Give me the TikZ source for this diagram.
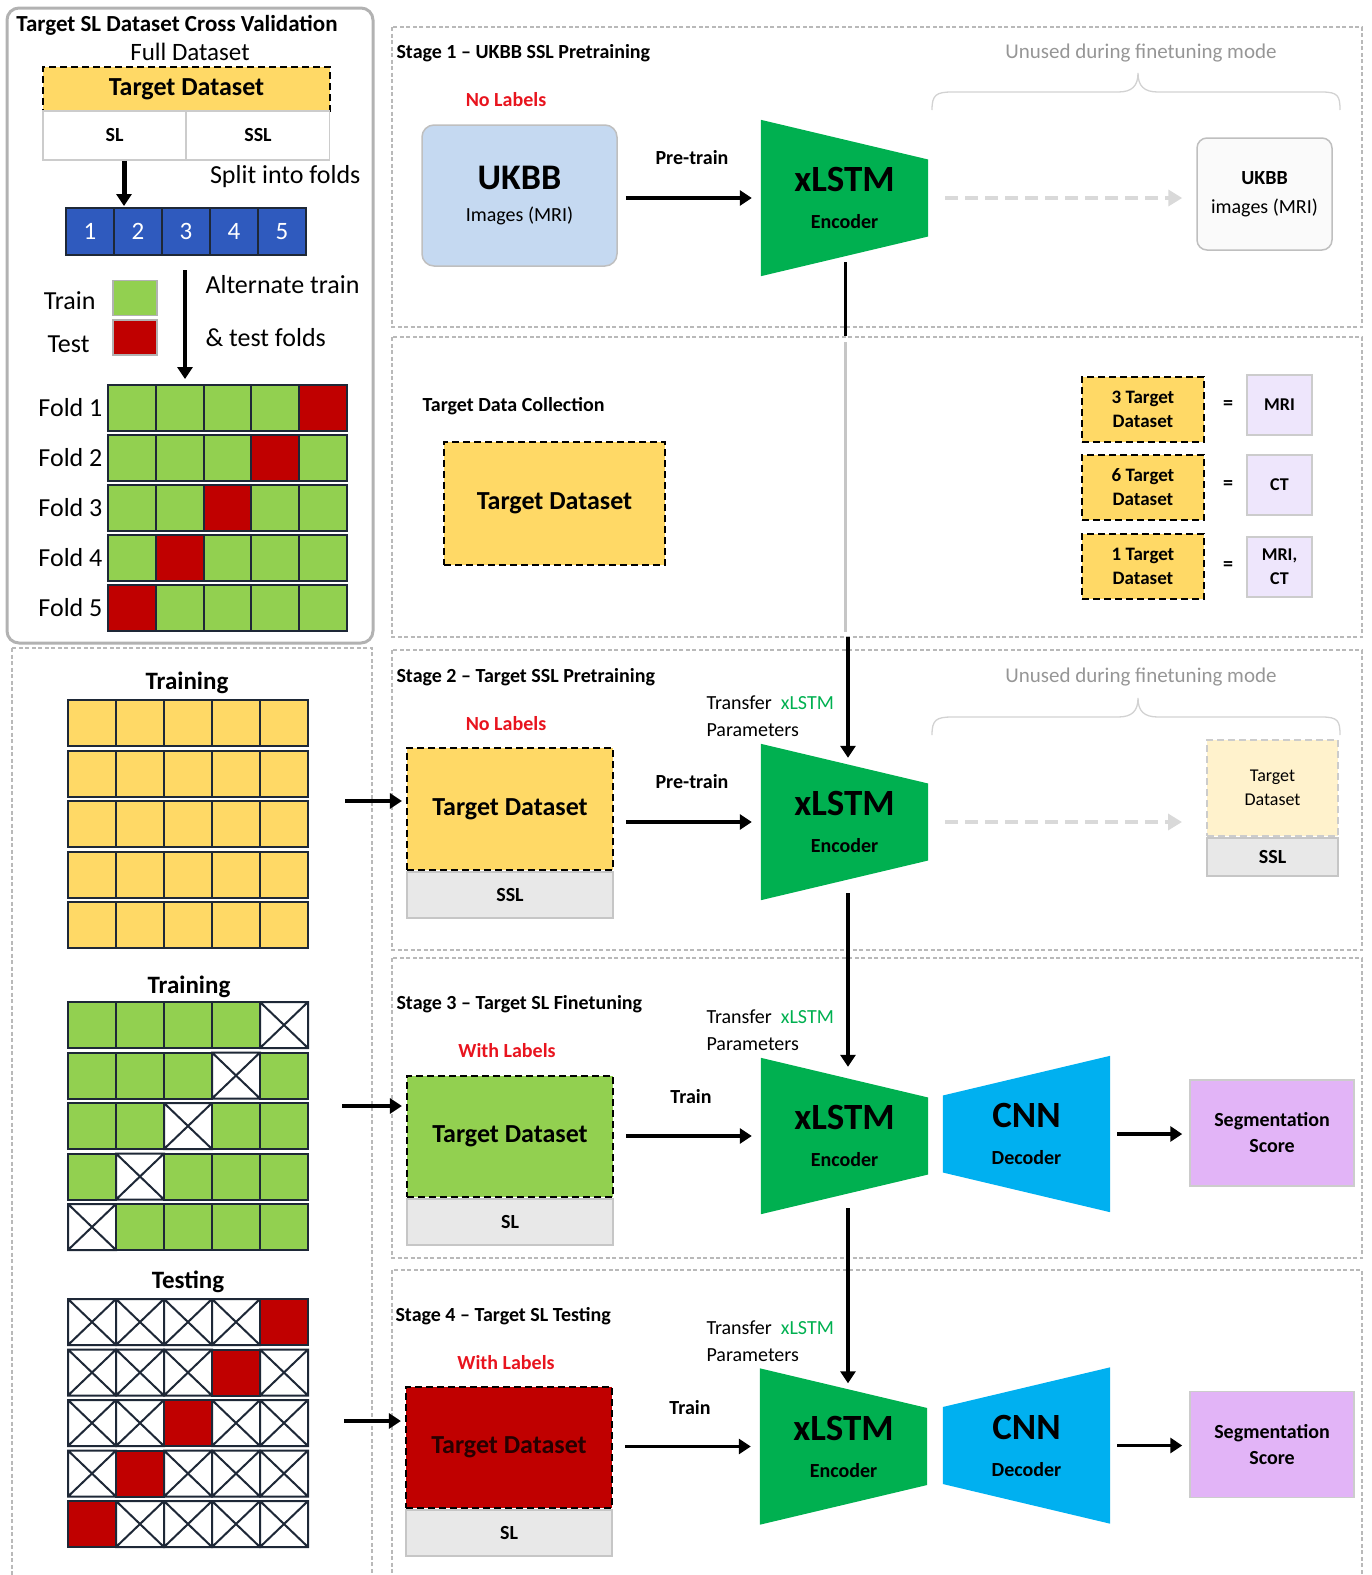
\documentclass[tikz,border=0pt]{standalone}
\usepackage{fontspec}
\setmainfont{Carlito}
\usetikzlibrary{arrows.meta,positioning,calc,backgrounds}

\definecolor{tyellow}{RGB}{255,217,102}
\definecolor{tlyellow}{RGB}{255,242,204}
\definecolor{tgreen}{RGB}{146,208,80}
\definecolor{tred}{RGB}{192,0,0}
\definecolor{encgreen}{RGB}{0,176,80}
\definecolor{decblue}{RGB}{0,176,240}
\definecolor{foldblue}{RGB}{47,90,190}
\definecolor{cellline}{RGB}{30,40,55}
\definecolor{ukbbblue}{RGB}{197,217,241}
\definecolor{segpurple}{RGB}{226,180,247}
\definecolor{modpurple}{RGB}{238,230,252}
\definecolor{lblred}{RGB}{232,20,30}
\definecolor{panelgray}{RGB}{185,185,185}
\definecolor{sslgray}{RGB}{232,232,232}
\definecolor{unusedgray}{RGB}{150,150,150}

\newcommand{\enctext}[2]{{\fontsize{37}{37}\selectfont #1}\\#2}

\begin{document}
\begin{tikzpicture}[x=1pt, y=-1pt,
    panel/.style={draw=panelgray, dash pattern=on 4pt off 2.5pt, line width=1.3pt},
    dsbox/.style={draw=black, dash pattern=on 7pt off 4pt, line width=2.2pt, inner sep=0pt, align=center, font=\bfseries\fontsize{26}{30}\selectfont},
    smallds/.style={dsbox, fill=tyellow, minimum width=122pt, minimum height=65pt, font=\bfseries\fontsize{19}{24}\selectfont},
    ltd/.style={draw=gray!40, dash pattern=on 7pt off 4pt, line width=2pt, fill=tlyellow, minimum width=131pt, minimum height=96pt, align=center, font=\fontsize{18}{24}\selectfont},
    subbox/.style={draw=gray!45, fill=sslgray, line width=1.5pt, minimum width=206pt, minimum height=46pt, inner sep=0pt, font=\bfseries\fontsize{20}{22}\selectfont},
    splitbox/.style={draw=gray!40, fill=white, line width=1.5pt, minimum width=143pt, minimum height=49pt, inner sep=0pt, font=\bfseries\fontsize{20}{22}\selectfont},
    modbox/.style={draw=gray!40, fill=modpurple, line width=1.5pt, minimum width=65pt, minimum height=60pt, inner sep=0pt, align=center, font=\bfseries\fontsize{18}{24}\selectfont},
    segbox/.style={draw=gray!40, fill=segpurple, line width=1.5pt, minimum width=164pt, minimum height=106pt, align=center, font=\bfseries\fontsize{20}{26}\selectfont},
    enc/.style={minimum width=167pt, minimum height=156pt, inner sep=0pt, align=center, font=\bfseries\fontsize{20}{37}\selectfont},
    arr/.style={-{Triangle[length=12pt,width=15pt]}, line width=3.5pt},
    garr/.style={-{Triangle[length=14pt,width=16pt]}, line width=4pt, draw=gray!30, dash pattern=on 13pt off 7pt},
    vline/.style={line width=3pt},
    stagelbl/.style={anchor=west, font=\bfseries\fontsize{20}{24}\selectfont},
    redlbl/.style={text=lblred, font=\bfseries\fontsize{20}{24}\selectfont},
    bfs/.style={font=\bfseries\fontsize{20}{24}\selectfont},
    transfer/.style={anchor=west, align=left, font=\fontsize{20}{27}\selectfont},
    unusedlbl/.style={text=unusedgray, font=\fontsize{21}{24}\selectfont},
    brace/.style={draw=gray!35, line width=1.3pt},
    foldlbl/.style={font=\fontsize{26}{30}\selectfont},
    foldnum/.style={draw=cellline, fill=foldblue, text=white, line width=1.5pt, minimum width=48pt, minimum height=47pt, inner sep=0pt, font=\fontsize{25}{28}\selectfont},
    legbox/.style={draw=gray!60, line width=1.5pt, minimum width=44pt, minimum height=35pt},
    gridtitle/.style={font=\bfseries\fontsize{25}{28}\selectfont},
    cell/.style={draw=cellline, line width=2pt}
  ]
  \useasboundingbox (0,0) rectangle (1372,1575);

  % cross validation box
  \draw[draw=gray!60, line width=3pt, rounded corners=12pt] (7,8) rectangle (373,643);
  \node[font=\bfseries\fontsize{23}{26}\selectfont] (cvtitle) at (177,25) {Target SL Dataset Cross Validation};
  \node[foldlbl, font=\fontsize{25}{28}\selectfont] (fullds) at (190,52) {Full Dataset};
  \node[dsbox, fill=tyellow, minimum width=287pt, minimum height=44pt] (fulltd) at (186.5,89) {Target Dataset};
  \node[splitbox] (sl) at (114.5,135.5) {SL};
  \node[splitbox] (ssl) at (258,135.5) {SSL};
  \coordinate (splitend) at (124,206);
  \draw[arr, line width=5pt] ([xshift=9.5pt]sl.south) -- (splitend);
  \node[foldlbl, anchor=east] (splitlbl) at (364,177) {Split into folds};
  \foreach \col in {1,...,5}
    \node[foldnum] (num\col) at ({90+(\col-1)*48},231.5) {\col};

  \node[legbox, fill=tgreen] (trainbox) at (135,298) {};
  \node[legbox, fill=tred] (testbox) at (135,337.5) {};
  \node[foldlbl, anchor=east] (trainlbl) at (99,301) {Train};
  \node[foldlbl, anchor=east] (testlbl) at (93,344) {Test};
  \coordinate (altstart) at (185,270);
  \coordinate (altend) at (185,379);
  \draw[arr, line width=4.5pt] (altstart) -- (altend);
  \node[foldlbl, anchor=west] (altlbl) at (202,285) {Alternate train};
  \node[foldlbl, anchor=west] (testfolds) at (202,338) {\& test folds};

  \foreach \row in {1,...,5}{
    \node[foldlbl, anchor=east] (fold\row) at (106,{408+(\row-1)*50}) {Fold \row};
    \pgfmathtruncatemacro{\tc}{6-\row}
    \foreach \col in {1,...,5}{
      \ifnum\col=\tc \def\cf{tred}\else\def\cf{tgreen}\fi
      \draw[cell, fill=\cf] ({108+(\col-1)*47.8},{385+(\row-1)*50}) rectangle ++(47.8,46);
    }
  }

  % data grids
  \draw[panel] (12,648) rectangle (372,1590);
  \node[gridtitle] (traintitle1) at (187,683) {Training};
  \node[gridtitle] (traintitle2) at (189,987) {Training};
  \node[gridtitle] (testtitle) at (188,1282) {Testing};
  \foreach \row in {0,...,4}
    \foreach \col in {0,...,4}
      \draw[cell, fill=tyellow] ({68+\col*48},{700+\row*50.5}) rectangle ++(48,46);
  \foreach \row in {0,...,4}{
    \pgfmathtruncatemacro{\xc}{4-\row}
    \foreach \col in {0,...,4}{
      \ifnum\col=\xc
        \draw[cell, fill=white] ({68+\col*48},{1002+\row*50.5}) rectangle ++(48,46) -- ++(-48,-46) ++(48,0) -- ++(-48,46);
      \else
        \draw[cell, fill=tgreen] ({68+\col*48},{1002+\row*50.5}) rectangle ++(48,46);
      \fi
      \ifnum\col=\xc
        \draw[cell, fill=tred] ({68+\col*48},{1299+\row*50.5}) rectangle ++(48,46);
      \else
        \draw[cell, fill=white] ({68+\col*48},{1299+\row*50.5}) rectangle ++(48,46) -- ++(-48,-46) ++(48,0) -- ++(-48,46);
      \fi
    }
  }
  \coordinate (ygridout) at (345,801);
  \coordinate (ggridout) at (342,1106);
  \coordinate (tgridout) at (344,1421);

  % stage panels
  \draw[panel] (392,27) rectangle (1362,327);
  \draw[panel] (392,337) rectangle (1362,637);
  \draw[panel] (392,650) rectangle (1362,950);
  \draw[panel] (392,958) rectangle (1362,1258);
  \draw[panel] (392,1270) rectangle (1362,1590);

  \foreach \by in {0,625}{
    \begin{scope}[shift={(0,\by)}]
      \draw[brace] (932,110) .. controls (932,95) and (936,92) .. (952,92) -- (1118,92) .. controls (1132,92) and (1138,86) .. (1138,73) .. controls (1138,86) and (1144,92) .. (1158,92) -- (1322,92) .. controls (1338,92) and (1340,96) .. (1340,110);
    \end{scope}
  }

  % stage 1
  \node[stagelbl] (s1lbl) at (393,53) {Stage 1 -- UKBB SSL Pretraining};
  \node[redlbl] (s1nolab) at (506,100) {No Labels};
  \node[draw=gray!50, fill=ukbbblue, rounded corners=12pt, line width=1.5pt, minimum width=195pt, minimum height=141pt, align=center, font=\fontsize{20}{32}\selectfont] (ukbb) at (519.5,195.5) {{\bfseries\fontsize{36}{32}\selectfont UKBB}\\Images (MRI)};
  \node[bfs] (pt1) at (692,158) {Pre-train};
  \node[enc] (enc1) at (844.5,198) {\enctext{xLSTM}{Encoder}};
  \draw[arr, shorten <=8pt, shorten >=9pt] (ukbb.east |- enc1.west) -- (enc1.west);
  \node[draw=gray!50, fill=gray!4, rounded corners=10pt, line width=1.5pt, minimum width=135pt, minimum height=112pt, align=center, font=\fontsize{20}{29}\selectfont] (ukbbimg) at (1264.5,194) {\textbf{UKBB}\\images (MRI)};
  \draw[garr, shorten <=17pt, shorten >=14pt] (enc1.east) -- (ukbbimg.west |- enc1.east);
  \node[unusedlbl] (s1unused) at (1141,53) {Unused during finetuning mode};

  % target data collection
  \node[stagelbl] (collbl) at (419,406) {Target Data Collection};
  \node[dsbox, fill=tyellow, minimum width=221pt, minimum height=123pt] (colltd) at (554.5,503.5) {Target Dataset};
  \node[smallds] (ds3) at (1143,409.5) {3 Target\\Dataset};
  \node[smallds] (ds6) at (1143,487.5) {6 Target\\Dataset};
  \node[smallds] (ds1) at (1143,566.5) {1 Target\\Dataset};
  \node[bfs] (eq3) at (1228,405) {=};
  \node[bfs] (eq6) at (1228,485) {=};
  \node[bfs] (eq1) at (1228,566) {=};
  \node[modbox] (mod3) at (1279.5,405) {MRI};
  \node[modbox] (mod6) at (1279.5,485) {CT};
  \node[modbox] (mod1) at (1279.5,567) {MRI,\\CT};

  % stage 2
  \node[stagelbl] (s2lbl) at (393,677) {Stage 2 -- Target SSL Pretraining};
  \node[redlbl] (s2nolab) at (506,724) {No Labels};
  \node[dsbox, fill=tyellow, minimum width=206pt, minimum height=122pt] (td2) at (510,809) {Target Dataset};
  \node[subbox, below=0pt of td2] (sub2) {SSL};
  \node[transfer] (s2tr) at (703,716) {Transfer\ \ \textcolor{encgreen}{xLSTM}\\Parameters};
  \node[bfs] (pt2) at (692,782) {Pre-train};
  \node[enc] (enc2) at (844.5,822) {\enctext{xLSTM}{Encoder}};
  \draw[arr, shorten <=12pt, shorten >=9pt] (td2.east |- enc2.west) -- (enc2.west);
  \node[ltd] (td2u) at (1272.5,788) {Target\\Dataset};
  \node[subbox, minimum width=131pt, minimum height=38pt, below=0pt of td2u] (sub2u) {SSL};
  \draw[garr, shorten <=17pt, shorten >=24pt] (enc2.east) -- (td2u.west |- enc2.east);
  \node[unusedlbl] (s2unused) at (1141,677) {Unused during finetuning mode};
  \draw[arr, shorten >=4pt] (ygridout) -- (td2.west |- ygridout);

  % stage 3
  \node[stagelbl] (s3lbl) at (393,1004) {Stage 3 -- Target SL Finetuning};
  \node[redlbl] (s3lab) at (507,1051) {With Labels};
  \node[dsbox, fill=tgreen, minimum width=206pt, minimum height=121pt] (td3) at (510,1136.5) {Target Dataset};
  \node[subbox, below=0pt of td3] (sub3) {SL};
  \node[transfer] (s3tr) at (703,1030) {Transfer\ \ \textcolor{encgreen}{xLSTM}\\Parameters};
  \node[bfs] (tr3) at (691,1097) {Train};
  \node[enc] (enc3) at (844.5,1136) {\enctext{xLSTM}{Encoder}};
  \node[enc] (dec3) at (1026.5,1134) {\enctext{CNN}{Decoder}};
  \node[segbox] (seg3) at (1272,1133) {Segmentation\\Score};
  \draw[arr, shorten <=12pt, shorten >=9pt] (td3.east |- enc3.west) -- (enc3.west);
  \draw[arr, shorten <=7pt, shorten >=7pt] (dec3.east) -- (seg3.west |- dec3.east);
  \draw[arr, shorten >=4pt] (ggridout) -- (td3.west |- ggridout);

  % stage 4
  \node[stagelbl] (s4lbl) at (392,1316) {Stage 4 -- Target SL Testing};
  \node[redlbl] (s4lab) at (506,1363) {With Labels};
  \node[dsbox, fill=tred, text=black!80!tred, minimum width=206pt, minimum height=121pt] (td4) at (509,1447.5) {Target Dataset};
  \node[subbox, below=0pt of td4] (sub4) {SL};
  \node[transfer] (s4tr) at (703,1341) {Transfer\ \ \textcolor{encgreen}{xLSTM}\\Parameters};
  \node[bfs] (tr4) at (690,1408) {Train};
  \node[enc] (enc4) at (843.5,1446.5) {\enctext{xLSTM}{Encoder}};
  \node[enc] (dec4) at (1026.5,1445.5) {\enctext{CNN}{Decoder}};
  \node[segbox] (seg4) at (1272,1444.5) {Segmentation\\Score};
  \draw[arr, shorten <=12pt, shorten >=9pt] (td4.east |- enc4.west) -- (enc4.west);
  \draw[arr, shorten <=7pt, shorten >=7pt] (dec4.east) -- (seg4.west |- dec4.east);
  \draw[arr, shorten >=4pt] (tgridout) -- (td4.west |- tgridout);

  % trapezoids behind the labels
  \begin{scope}[on background layer]
    \foreach \e in {enc1,enc2,enc3,enc4}
      \fill[encgreen] (\e.north west) -- ([yshift=38.5pt]\e.east) -- ([yshift=-38.5pt]\e.east) -- (\e.south west) -- cycle;
    \foreach \d in {dec3,dec4}
      \fill[decblue] ([yshift=38.5pt]\d.west) -- (\d.north east) -- (\d.south east) -- ([yshift=-38.5pt]\d.west) -- cycle;
  \end{scope}

  % parameter transfer
  \coordinate (c1a) at (845,336);
  \coordinate (c1b) at (845,342);
  \coordinate (c1c) at (845,632);
  \coordinate (c1d) at (848,637);
  \draw[vline] ([xshift=0.5pt,yshift=14pt]enc1.south) -- (c1a);
  \draw[line width=3pt, gray!45] (c1b) -- (c1c);
  \draw[arr] (c1d) -- ([xshift=3.5pt,yshift=-14pt]enc2.north);
  \draw[arr] ([xshift=3.5pt,yshift=7pt]enc2.south) -- ([xshift=3.5pt,yshift=-9pt]enc3.north);
  \draw[arr] ([xshift=3.5pt,yshift=6pt]enc3.south) -- ([xshift=4.5pt,yshift=-15pt]enc4.north);
\end{tikzpicture}
\end{document}
